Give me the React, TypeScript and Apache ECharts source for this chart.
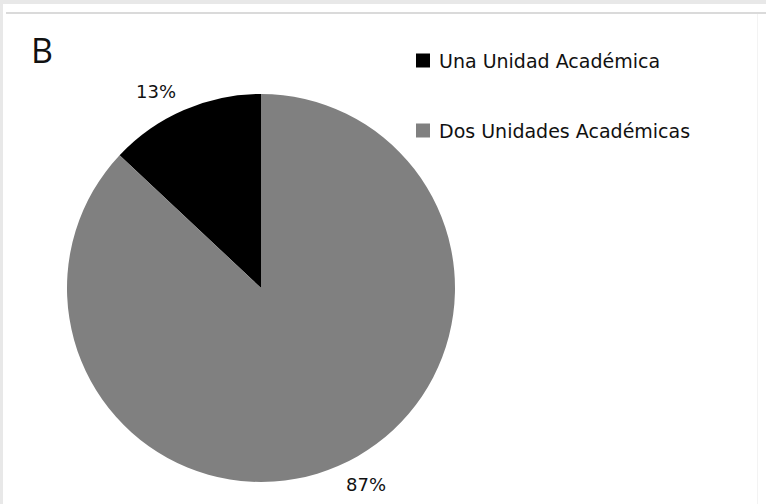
import React, { useEffect, useRef } from "react";
import * as echarts from "echarts";

const categories = ["Una Unidad Académica", "Dos Unidades Académicas"];
const values = [13, 87];
const colors = ["#000000", "#808080"];
const panelLabel = "B";

export default function App() {
  const ref = useRef<HTMLDivElement>(null);
  useEffect(() => {
    if (!ref.current) return;
    const chart = echarts.init(ref.current, null, { renderer: "svg" });
    chart.setOption({
      animation: false,
      backgroundColor: "transparent",
      title: {
        text: panelLabel,
        left: 26,
        top: 28,
        textStyle: { fontFamily: "Open Sans", fontWeight: "normal", fontSize: 34, color: "#111" },
      },
      legend: {
        orient: "vertical",
        left: 411,
        top: 46,
        itemWidth: 14,
        itemHeight: 14,
        itemGap: 51,
        icon: "rect",
        data: categories,
        textStyle: {
          fontFamily: "DejaVu Sans",
          fontSize: 19,
          color: "#111",
          padding: [0, 0, 0, 4],
        },
      },
      series: [
        {
          type: "pie",
          center: [261, 288],
          radius: 194,
          startAngle: 90,
          clockwise: false,
          silent: true,
          emphasis: { disabled: true },
          label: {
            show: true,
            position: "outside",
            formatter: (p: any) => Math.round(p.percent) + "%",
            fontFamily: "DejaVu Sans",
            fontSize: 18,
            color: "#111",
            distanceToLabelLine: 0,
          },
          labelLine: { show: false, length: 20, length2: 0 },
          avoidLabelOverlap: false,
          data: categories.map((c, i) => ({
            name: c,
            value: values[i],
            itemStyle: { color: colors[i] },
          })),
        },
      ],
    });
    return () => chart.dispose();
  }, []);

  return (
    <div
      style={{
        position: "fixed",
        left: 0,
        top: 0,
        width: 766,
        height: 504,
        background: "#e8e8e8",
        overflow: "hidden",
      }}
    >
      <div
        style={{
          position: "absolute",
          left: 3,
          top: 4,
          right: 0,
          bottom: 0,
          background: "#ffffff",
        }}
      />
      <div
        style={{
          position: "absolute",
          left: 6,
          top: 12,
          right: 0,
          height: 2,
          background: "#dadada",
        }}
      />
      <div
        style={{
          position: "absolute",
          left: 757,
          top: 14,
          width: 1,
          bottom: 0,
          background: "#f3f3f3",
        }}
      />
      <div ref={ref} style={{ position: "absolute", left: 0, top: 0, width: 766, height: 504 }} />
    </div>
  );
}
